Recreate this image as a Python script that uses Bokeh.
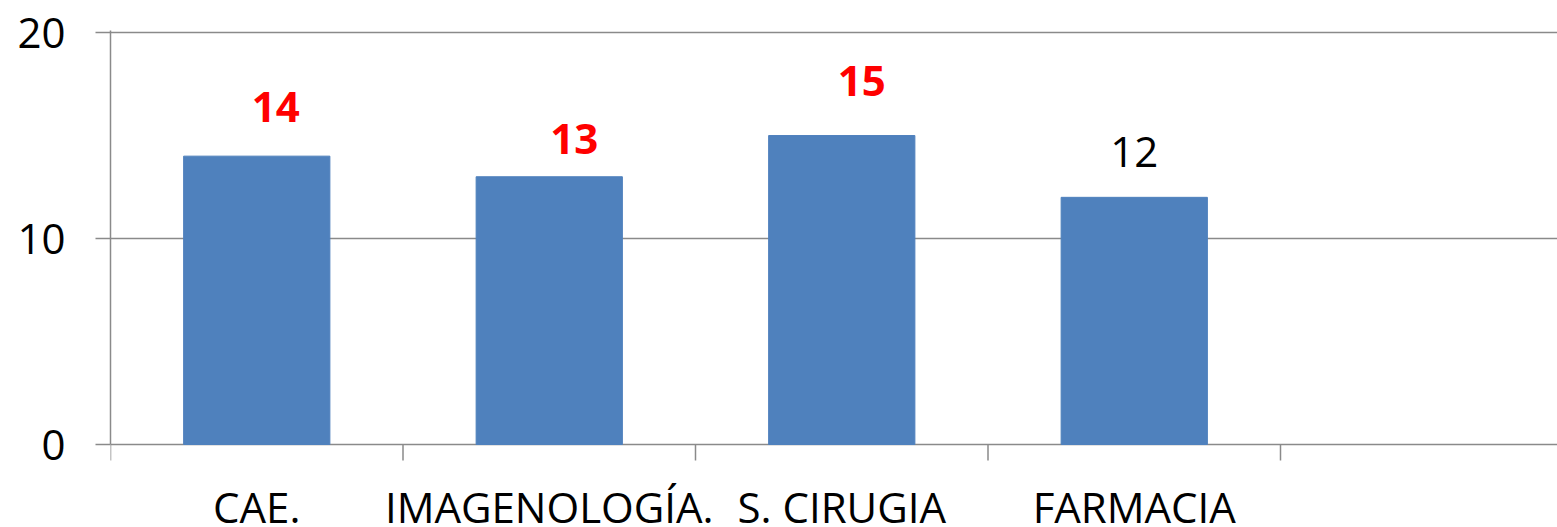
from bokeh.plotting import figure
from bokeh.models import FixedTicker, Range1d, ColumnDataSource
from bokeh.core.properties import value
from bokeh.embed import file_html
from bokeh.resources import INLINE

categories = ["CAE.", "IMAGENOLOGÍA.", "S. CIRUGIA", "FARMACIA"]
values = [14, 13, 15, 12]
label_colors = ["#ff0000", "#ff0000", "#ff0000", "#000000"]
label_styles = ["bold", "bold", "bold", "normal"]
label_dx = [19, 25, 20, 0]
label_dy = [-49, -38, -55, -45]
y_ticks = [0, 10, 20]
y_max = 20
n_slots = 5

FONT = "Open Sans"
GRAY = "#8a8a8a"

# layout (pixels)
W, H = 1557, 527
LEFT, TOP = 110, 30
ZERO_PX = 444          # pixel row of value 0
SLOT_PX = 292.5        # width of one category slot
TICK_PX = 16

plot_h = H - TOP
px_per_unit = (ZERO_PX - TOP) / (y_max + 0.1)
y_top = y_max + 0.1
y_bottom = -(H - ZERO_PX) / px_per_unit
x_end = (W - LEFT) / SLOT_PX
tick_len = TICK_PX / px_per_unit

xs = [i + 0.5 for i in range(len(categories))]
src = ColumnDataSource(dict(x=xs, top=values, txt=[str(v) for v in values],
                            col=label_colors, sty=label_styles,
                            dx=label_dx, dy=label_dy, name=categories,
                            zero=[0] * len(xs)))
bounds = list(range(n_slots))
bsrc = ColumnDataSource(dict(x=bounds, y0=[0] * n_slots, y1=[-tick_len] * n_slots))

p = figure(width=W, height=H, output_backend="svg", toolbar_location=None,
           x_range=Range1d(0, x_end), y_range=Range1d(y_bottom, y_top),
           min_border_left=LEFT, min_border_right=0, min_border_top=TOP,
           min_border_bottom=0)
p.outline_line_color = None
p.background_fill_color = "white"
p.border_fill_color = "white"
p.xaxis.visible = False
p.xgrid.grid_line_color = None

# grid lines incl. the baseline at 0
p.ygrid.ticker = FixedTicker(ticks=y_ticks)
p.ygrid.grid_line_color = GRAY
p.ygrid.grid_line_width = 1.5

p.vbar(x="x", top="top", bottom=0, width=0.5, source=src,
       fill_color="#4f81bd", line_color="#4f81bd")

# category boundary ticks
p.segment(x0="x", x1="x", y0="y0", y1="y1", source=bsrc,
          line_color=GRAY, line_width=1.5)

# value labels
p.text(x="x", y="top", text="txt", source=src, x_offset="dx", y_offset="dy",
       text_color="col", text_font_style="sty", text_font=value(FONT),
       text_font_size="42px", text_align="center", text_baseline="alphabetic")

# category names
p.text(x="x", y="zero", text="name", source=src, y_offset=62,
       text_color="black", text_font=value(FONT),
       text_font_size="42px", text_align="center", text_baseline="alphabetic")

# y axis
p.yaxis.ticker = FixedTicker(ticks=y_ticks)
p.yaxis.bounds = (0, y_top)
p.yaxis.axis_line_color = GRAY
p.yaxis.axis_line_width = 1.5
p.yaxis.major_tick_line_color = GRAY
p.yaxis.major_tick_line_width = 1.5
p.yaxis.major_tick_in = 0
p.yaxis.major_tick_out = 15
p.yaxis.minor_tick_line_color = None
p.yaxis.major_label_text_font = FONT
p.yaxis.major_label_text_font_size = "42px"
p.yaxis.major_label_text_color = "black"
p.yaxis.major_label_standoff = 30

open("out.html", "w").write(file_html(p, INLINE))
